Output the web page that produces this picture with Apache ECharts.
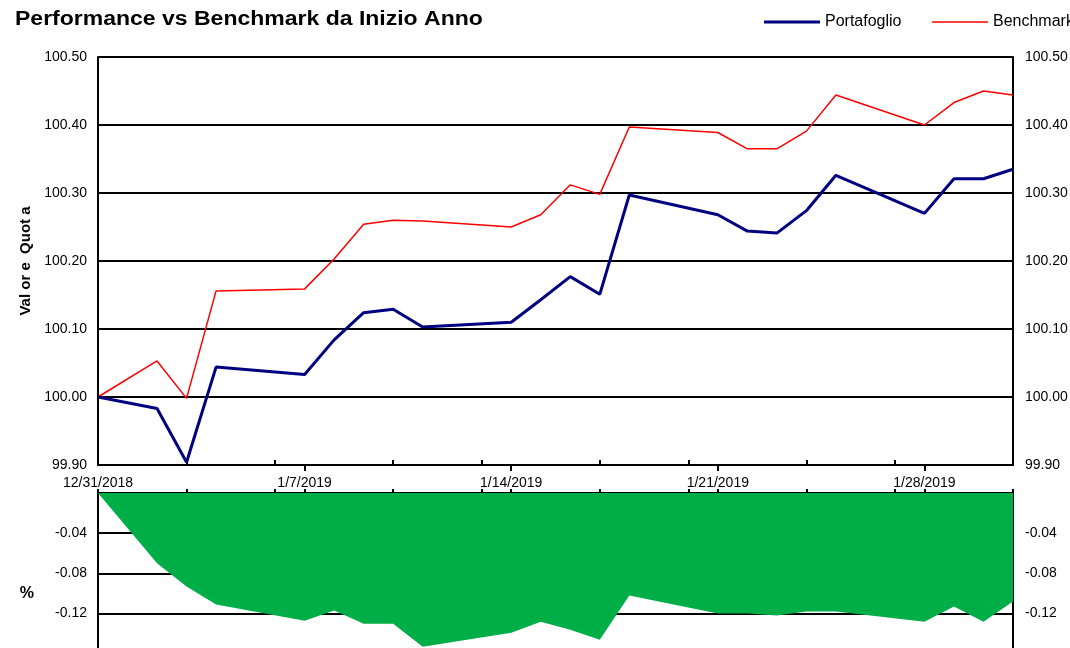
<!DOCTYPE html>
<html>
<head>
<meta charset="utf-8">
<script src="https://cdn.jsdelivr.net/npm/echarts@6/dist/echarts.min.js"></script>
<style>
html,body{margin:0;padding:0;background:#fff;}
#chart{width:1070px;height:648px;}
</style>
</head>
<body>
<div id="chart"></div>
<script>
// Trading days shown in the chart
const tradingDays = ['12/31/2018','1/2/2019','1/3/2019','1/4/2019','1/7/2019','1/8/2019','1/9/2019','1/10/2019','1/11/2019',
  '1/14/2019','1/15/2019','1/16/2019','1/17/2019','1/18/2019','1/21/2019','1/22/2019','1/23/2019','1/24/2019','1/25/2019',
  '1/28/2019','1/29/2019','1/30/2019','1/31/2019'];
const portafoglio = [100.000, 99.983, 99.904, 100.044, 100.033, 100.084, 100.124, 100.129, 100.103,
  100.110, 100.143, 100.177, 100.151, 100.297, 100.268, 100.244, 100.241, 100.274, 100.326,
  100.270, 100.321, 100.321, 100.335];
const benchmark = [100.000, 100.053, 99.998, 100.156, 100.159, 100.203, 100.254, 100.260, 100.259,
  100.250, 100.268, 100.312, 100.298, 100.397, 100.389, 100.365, 100.365, 100.391, 100.444,
  100.400, 100.433, 100.450, 100.444];
const differenza = [0.000, -0.070, -0.093, -0.111, -0.127, -0.117, -0.130, -0.130, -0.153,
  -0.139, -0.128, -0.136, -0.146, -0.102, -0.120, -0.120, -0.122, -0.118, -0.118,
  -0.128, -0.113, -0.128, -0.108];
const topTicks = ['99.90','100.00','100.10','100.20','100.30','100.40','100.50'];
const bottomTicks = ['-0.04','-0.08','-0.12'];
const labelDays = ['12/31/2018','1/7/2019','1/14/2019','1/21/2019','1/28/2019'];
const minorDays = ['1/3/2019','1/6/2019','1/10/2019','1/13/2019','1/17/2019','1/20/2019','1/24/2019','1/27/2019','1/31/2019'];

// build calendar categories
function fmt(d){return (d.getMonth()+1)+'/'+d.getDate()+'/'+d.getFullYear();}
const calendar = [];
{
  const d = new Date(2018, 11, 31);
  const end = new Date(2019, 0, 31);
  while (d <= end) { calendar.push(fmt(d)); d.setDate(d.getDate()+1); }
}
function mapToCal(arr){
  return calendar.map(c => { const i = tradingDays.indexOf(c); return i >= 0 ? arr[i] : null; });
}
const minorIdx = minorDays.map(d => calendar.indexOf(d));
const labelIdx = labelDays.map(d => calendar.indexOf(d));
function pick(list){ return v => list.find(t => Math.abs(parseFloat(t) - v) < 1e-6) || ''; }

const FONT = "'Liberation Sans', Arial, sans-serif";
const black = '#000';
const chart = echarts.init(document.getElementById('chart'), null, {renderer:'canvas'});
const legendBase = {
  top: 9, itemWidth: 56, itemHeight: 14, itemGap: 28,
  textStyle: {fontSize: 16, color: black, fontFamily: FONT}
};
chart.setOption({
  animation: false,
  backgroundColor: '#fff',
  textStyle: {fontFamily: FONT, color: black},
  graphic: [{
    type: 'text', left: 15, top: 9, scaleX: 1.15, originX: 0,
    style: {text: 'Performance vs Benchmark da Inizio Anno', fontSize: 20, fontWeight: 'bold',
      fill: black, fontFamily: FONT}
  }],
  legend: [
    Object.assign({left: 759, data: [{name: 'Portafoglio', icon: 'path://M0,0H56V3H0Z'}]}, legendBase),
    Object.assign({left: 927, data: [{name: 'Benchmark', icon: 'path://M0,0H56V1.4H0Z'}]}, legendBase)
  ],
  grid: [
    {left: 98, right: 57, top: 57, height: 408, outerBoundsMode: 'none', containLabel: false},
    {left: 98, right: 57, top: 493, height: 201, outerBoundsMode: 'none', containLabel: false}
  ],
  xAxis: [
    {
      type: 'category', gridIndex: 0, data: calendar, boundaryGap: false, position: 'bottom',
      axisLine: {show: true, lineStyle: {color: black, width: 2}},
      axisTick: {show: true, inside: true, length: 5, lineStyle: {color: black, width: 2},
        interval: (i) => minorIdx.includes(i)},
      axisLabel: {show: false},
      splitLine: {show: false}
    },
    {
      type: 'category', gridIndex: 0, data: calendar, boundaryGap: false, position: 'bottom',
      axisLine: {show: false},
      axisTick: {show: true, inside: false, length: 6, lineStyle: {color: black, width: 2},
        interval: (i) => labelIdx.includes(i) && i > 0},
      axisLabel: {show: true, interval: (i) => labelIdx.includes(i), margin: 11,
        fontSize: 14, color: black, fontFamily: FONT},
      splitLine: {show: false}
    },
    {
      type: 'category', gridIndex: 1, data: calendar, boundaryGap: false, position: 'top',
      axisLine: {show: true, lineStyle: {color: black, width: 2}},
      axisTick: {show: true, inside: false, length: 4, lineStyle: {color: black, width: 2},
        interval: (i) => minorIdx.includes(i) || labelIdx.includes(i)},
      axisLabel: {show: false},
      splitLine: {show: false}
    }
  ],
  yAxis: [
    {
      type: 'value', gridIndex: 0, position: 'left', min: 99.9, max: 100.5, interval: 0.1,
      name: 'Val or e  Quot a', nameLocation: 'middle', nameGap: 64, nameRotate: 90,
      nameTextStyle: {fontSize: 15, fontWeight: 'bold', color: black, fontFamily: FONT},
      axisLine: {show: true, lineStyle: {color: black, width: 2}},
      axisTick: {show: false},
      axisLabel: {margin: 11, fontSize: 14, color: black, fontFamily: FONT, formatter: pick(topTicks)},
      splitLine: {show: true, lineStyle: {color: black, width: 2}}
    },
    {
      type: 'value', gridIndex: 0, position: 'right', min: 99.9, max: 100.5, interval: 0.1,
      axisLine: {show: true, lineStyle: {color: black, width: 2}},
      axisTick: {show: false},
      axisLabel: {margin: 12, fontSize: 14, color: black, fontFamily: FONT, formatter: pick(topTicks)},
      splitLine: {show: false}
    },
    {
      type: 'value', gridIndex: 1, position: 'left', min: -0.2, max: 0, interval: 0.04,
      name: '%', nameLocation: 'middle', nameGap: 64, nameRotate: 0,
      nameTextStyle: {fontSize: 16, fontWeight: 'bold', color: black, fontFamily: FONT},
      axisLine: {show: true, lineStyle: {color: black, width: 2}},
      axisTick: {show: false},
      axisLabel: {margin: 11, fontSize: 14, color: black, fontFamily: FONT, formatter: pick(bottomTicks)},
      splitLine: {show: true, lineStyle: {color: black, width: 2}}
    },
    {
      type: 'value', gridIndex: 1, position: 'right', min: -0.2, max: 0, interval: 0.04,
      axisLine: {show: true, lineStyle: {color: black, width: 2}},
      axisTick: {show: false},
      axisLabel: {margin: 12, fontSize: 14, color: black, fontFamily: FONT, formatter: pick(bottomTicks)},
      splitLine: {show: false}
    }
  ],
  series: [
    {
      name: 'Portafoglio', type: 'line', xAxisIndex: 0, yAxisIndex: 0,
      data: mapToCal(portafoglio), connectNulls: true, symbol: 'none',
      lineStyle: {color: '#000080', width: 3}, itemStyle: {color: '#000080'}, z: 3
    },
    {
      name: 'Benchmark', type: 'line', xAxisIndex: 0, yAxisIndex: 0,
      data: mapToCal(benchmark), connectNulls: true, symbol: 'none',
      lineStyle: {color: '#ff0000', width: 1.5}, itemStyle: {color: '#ff0000'}, z: 2
    },
    {
      name: 'Differenza', type: 'line', xAxisIndex: 2, yAxisIndex: 2,
      data: mapToCal(differenza), connectNulls: true, symbol: 'none',
      lineStyle: {width: 0, color: '#00AE47'}, itemStyle: {color: '#00AE47'},
      areaStyle: {color: '#00AE47', opacity: 1}
    }
  ]
});
</script>
</body>
</html>
